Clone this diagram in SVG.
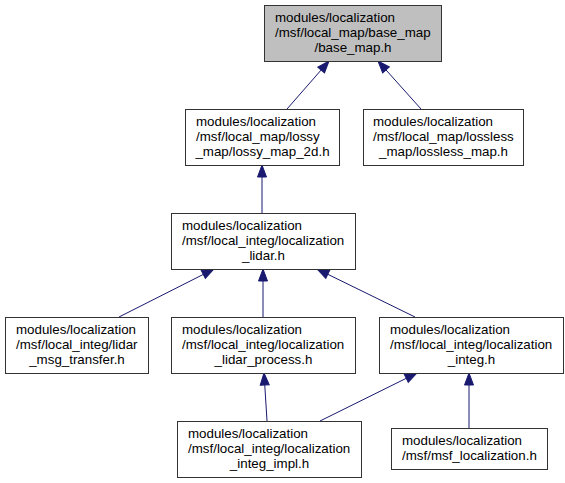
<svg xmlns="http://www.w3.org/2000/svg" width="565" height="483" viewBox="0 0 565 483">
  <style>
    .box { fill: #ffffff; stroke: #333333; stroke-width: 1; }
    .root { fill: #bfbfbf; }
    text { font-family: "Liberation Sans", Arial, Helvetica, sans-serif; font-size: 13.33px; fill: #000000; }
    .c { text-anchor: middle; }
    .edge { fill: none; stroke: #191970; stroke-width: 1; marker-end: url(#arrow); }
  </style>
  <defs>
    <marker id="arrow" markerUnits="userSpaceOnUse" markerWidth="14" markerHeight="12" refX="12" refY="6" orient="auto" overflow="visible">
      <path d="M0,1.5 L12,6 L0,10.5 z" fill="#191970" stroke="#191970" stroke-width="1"/>
    </marker>
  </defs>
  <rect width="565" height="483" fill="#ffffff"/>

  <!-- include dependency edges (includer -> included) -->
  <g id="edges">
    <path class="edge" d="M287,109 L329,61"/>
    <path class="edge" d="M421,109 L378,61"/>
    <path class="edge" d="M262,213 L262,165"/>
    <path class="edge" d="M119,317 L214,269"/>
    <path class="edge" d="M263,317 L263,269"/>
    <path class="edge" d="M415,317 L317,269"/>
    <path class="edge" d="M267,421 L264,373"/>
    <path class="edge" d="M320,421 L417,373"/>
    <path class="edge" d="M469,428 L469,373"/>
  </g>

  <g id="node-base-map">
    <rect class="box root" x="264.5" y="5.5" width="177" height="56"/>
    <text x="275" y="22">modules/localization</text>
    <text x="275" y="37">/msf/local_map/base_map</text>
    <text class="c" x="353" y="52">/base_map.h</text>
  </g>

  <g id="node-lossy-map">
    <rect class="box" x="185.5" y="109.5" width="154" height="56"/>
    <text x="196" y="126">modules/localization</text>
    <text x="196" y="141">/msf/local_map/lossy</text>
    <text class="c" x="262.5" y="156">_map/lossy_map_2d.h</text>
  </g>

  <g id="node-lossless-map">
    <rect class="box" x="363.5" y="109.5" width="160" height="56"/>
    <text x="373" y="126">modules/localization</text>
    <text x="373" y="141">/msf/local_map/lossless</text>
    <text class="c" x="443.5" y="156">_map/lossless_map.h</text>
  </g>

  <g id="node-localization-lidar">
    <rect class="box" x="171.5" y="213.5" width="184" height="56"/>
    <text x="182" y="230">modules/localization</text>
    <text x="182" y="245">/msf/local_integ/localization</text>
    <text class="c" x="263.5" y="260">_lidar.h</text>
  </g>

  <g id="node-lidar-msg-transfer">
    <rect class="box" x="5.5" y="317.5" width="143" height="56"/>
    <text x="16" y="334">modules/localization</text>
    <text x="16" y="349">/msf/local_integ/lidar</text>
    <text class="c" x="77" y="364">_msg_transfer.h</text>
  </g>

  <g id="node-lidar-process">
    <rect class="box" x="171.5" y="317.5" width="184" height="56"/>
    <text x="182" y="334">modules/localization</text>
    <text x="182" y="349">/msf/local_integ/localization</text>
    <text class="c" x="263.5" y="364">_lidar_process.h</text>
  </g>

  <g id="node-localization-integ">
    <rect class="box" x="379.5" y="317.5" width="184" height="56"/>
    <text x="390" y="334">modules/localization</text>
    <text x="390" y="349">/msf/local_integ/localization</text>
    <text class="c" x="471.5" y="364">_integ.h</text>
  </g>

  <g id="node-integ-impl">
    <rect class="box" x="177.5" y="421.5" width="184" height="56"/>
    <text x="188" y="438">modules/localization</text>
    <text x="188" y="453">/msf/local_integ/localization</text>
    <text class="c" x="269.5" y="468">_integ_impl.h</text>
  </g>

  <g id="node-msf-localization">
    <rect class="box" x="391.5" y="428.5" width="156" height="41"/>
    <text x="402" y="445">modules/localization</text>
    <text x="402" y="460">/msf/msf_localization.h</text>
  </g>
</svg>
